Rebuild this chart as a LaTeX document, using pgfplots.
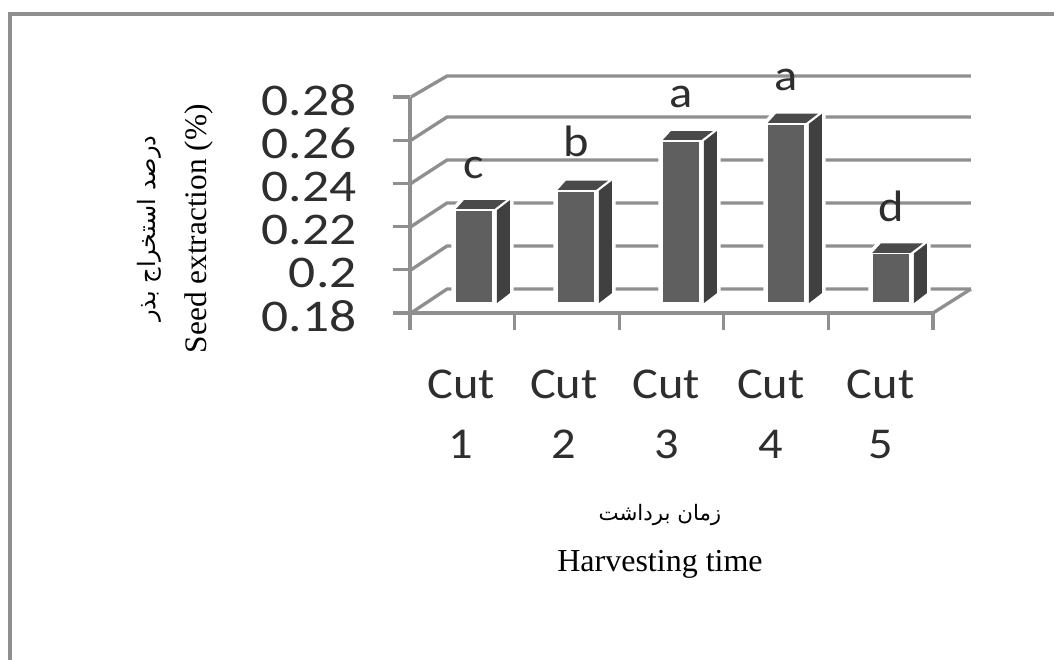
\documentclass[border=0pt]{standalone}
\usepackage{fontspec}
\usepackage{pgfplots}
\pgfplotsset{compat=1.18}
\setmainfont{Liberation Serif}
\newfontfamily\tickfont[FakeStretch=1.18]{Carlito}
\newfontfamily\catfont[FakeStretch=1.1]{Carlito}
\newfontfamily\arabicfont[Script=Arabic]{DejaVu Sans}
\TeXXeTstate=1
\definecolor{gridc}{HTML}{8F8F8F}
\definecolor{frontc}{HTML}{5F5F5F}
\definecolor{sidec}{HTML}{404040}
\definecolor{topc}{HTML}{4A4A4A}
\definecolor{inkc}{HTML}{2E2E2E}
\newcommand\gridline[2]{% front value, back value
  \addplot[gridc,line width=2.5pt,line join=round] coordinates {(0.01,#1) (0.354,#2) (5.363,#2)};
}
\newcommand\threedbar[2]{% left px of front face (from axis origin), value
  \pgfmathsetmacro\xa{#1/104.6}
  \pgfmathsetmacro\xb{(#1+38)/104.6}
  \pgfmathsetmacro\xe{(#1+42)/104.6}
  \pgfmathsetmacro\xc{(#1+55)/104.6}
  \pgfmathsetmacro\xd{(#1+9)/104.6}
  \pgfmathsetmacro\xf{(#1+51)/104.6}
  \pgfmathsetmacro\ya{0.18+10/2160}
  \pgfmathsetmacro\yb{#2+10/2160}
  \pgfmathsetmacro\yc{\yb+10/2160}
  \pgfmathsetmacro\yd{\ya+10/2160}
  \addplot[draw=white,fill=white,line width=5.5pt,line join=miter] coordinates {(\xa,\ya) (\xa,\yb) (\xd,\yc) (\xc,\yc) (\xc,\yd) (\xb,\ya)} --cycle;
  \addplot[draw=none,fill=sidec] coordinates {(\xe,\ya) (\xe,\yb) (\xc,\yc) (\xc,\yd)} --cycle;
  \addplot[draw=none,fill=topc] coordinates {(\xa,\yb) (\xd,\yc) (\xf,\yc) (\xb,\yb)} --cycle;
  \addplot[draw=white,fill=frontc,line width=1.2pt] coordinates {(\xa,\ya) (\xa,\yb) (\xb,\yb) (\xb,\ya)} --cycle;
}
\begin{document}
\begin{tikzpicture}[x=0.75pt,y=0.75pt]
\useasboundingbox (-410,-347) rectangle (644,313);
\fill[white] (-410,-347) rectangle (644,313);
\draw[gridc,line width=3.6pt] (-400,-347) -- (-400,299) -- (644,299);
\begin{axis}[
  at={(0,0)},anchor=south west,
  scale only axis,width=392.25pt,height=162pt,
  clip=false,
  xmin=0,xmax=5,ymin=0.18,ymax=0.28,
  axis x line*=bottom,axis y line*=left,
  axis line style={gridc,line width=2.5pt,-},
  tick style={gridc,line width=2.5pt},
  major tick length=12.5pt,
  tick align=outside,
  xtick={0,1,2,3,4,5},xticklabels={},
  extra x ticks={0.49,1.47,2.45,3.45,4.5},
  extra x tick labels={{Cut\\[12.5pt]1},{Cut\\[12.5pt]2},{Cut\\[12.5pt]3},{Cut\\[12.5pt]4},{Cut\\[12.5pt]5}},
  extra x tick style={major tick length=0pt,tick style={draw=none},
    tick label style={font=\catfont\fontsize{33}{33}\selectfont,text=inkc,align=center,anchor=north,yshift=-39pt}},
  ytick={0.18,0.2,0.22,0.24,0.26,0.28},
  yticklabel style={font=\tickfont\fontsize{34}{34}\selectfont,text=inkc,xshift=-24pt,yshift=-2.5pt,
    /pgf/number format/assume math mode=true,/pgf/number format/fixed},
  ylabel={{\fontsize{18}{18}\selectfont\arabicfont\beginR درصد استخراج بذر\endR}\\[17pt]{\fontsize{23.5}{23.5}\selectfont Seed extraction (\%)}},
  ylabel style={at={(axis description cs:-0.449,0.39)},anchor=center,align=center,text=black},
  xlabel={{\fontsize{16}{16}\selectfont\arabicfont\beginR زمان برداشت\endR}\\[17pt]{\fontsize{24}{24}\selectfont Harvesting time}},
  xlabel style={at={(axis description cs:0.478,-1.058)},anchor=center,align=center,text=black},
]
\gridline{0.18}{0.19111}
\gridline{0.20}{0.21102}
\gridline{0.22}{0.23093}
\gridline{0.24}{0.25083}
\gridline{0.26}{0.27074}
\gridline{0.28}{0.28972}
\addplot[gridc,line width=2.5pt] coordinates {(5,0.18) (5.363,0.19111)};
\threedbar{45}{0.223}
\threedbar{147}{0.232}
\threedbar{252}{0.255}
\threedbar{357}{0.263}
\threedbar{462}{0.203}
\node[font=\catfont\fontsize{33}{33}\selectfont,text=inkc] at (axis cs:0.612,0.247) {c};
\node[font=\catfont\fontsize{33}{33}\selectfont,text=inkc] at (axis cs:1.59,0.2595) {b};
\node[font=\catfont\fontsize{33}{33}\selectfont,text=inkc] at (axis cs:2.59,0.280) {a};
\node[font=\catfont\fontsize{33}{33}\selectfont,text=inkc] at (axis cs:3.6,0.288) {a};
\node[font=\catfont\fontsize{33}{33}\selectfont,text=inkc] at (axis cs:4.6,0.2295) {d};
\end{axis}
\end{tikzpicture}
\end{document}
